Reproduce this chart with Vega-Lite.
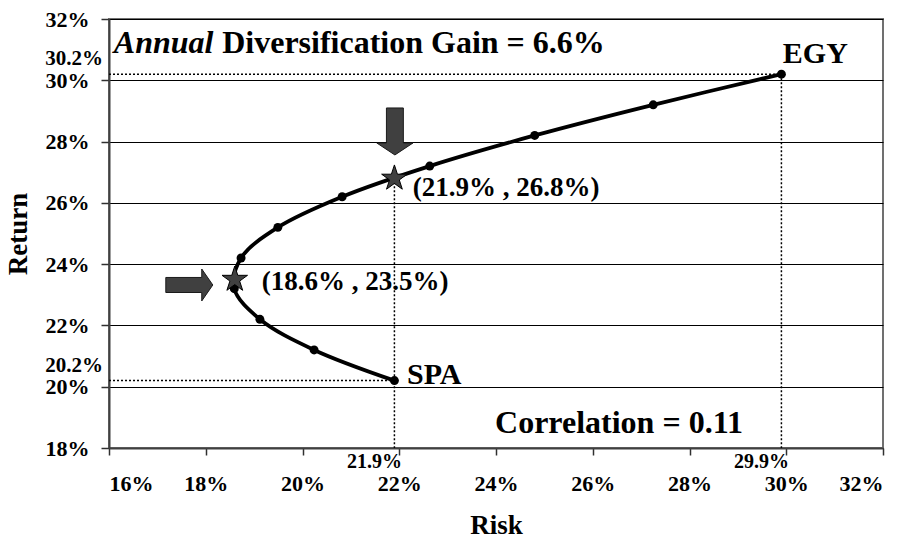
{
  "$schema": "https://vega.github.io/schema/vega-lite/v6.json",
  "autosize": {"type": "none"},
  "padding": {"left": 109, "top": 19, "right": 26, "bottom": 89},
  "width": 774,
  "height": 429,
  "background": "white",
  "config": {
    "view": {"stroke": "#707070", "strokeWidth": 2},
    "font": "Liberation Serif",
    "axis": {
      "labelFont": "Liberation Serif",
      "labelFontSize": 22,
      "labelFontWeight": "bold",
      "labelColor": "black",
      "titleFont": "Liberation Serif",
      "titleFontSize": 27,
      "titleFontWeight": "bold",
      "titleColor": "black",
      "domainColor": "#404040",
      "domainWidth": 2,
      "tickColor": "#303030",
      "tickWidth": 1.5
    }
  },
  "datasets": {
    "frontier": [
      {"w": 0, "risk": 21.9, "ret": 20.2},
      {"w": 1, "risk": 20.24, "ret": 21.2},
      {"w": 2, "risk": 19.12, "ret": 22.2},
      {"w": 3, "risk": 18.59, "ret": 23.2},
      {"w": 4, "risk": 18.73, "ret": 24.2},
      {"w": 5, "risk": 19.49, "ret": 25.2},
      {"w": 6, "risk": 20.82, "ret": 26.2},
      {"w": 7, "risk": 22.63, "ret": 27.2},
      {"w": 8, "risk": 24.8, "ret": 28.2},
      {"w": 9, "risk": 27.25, "ret": 29.2},
      {"w": 10, "risk": 29.9, "ret": 30.2}
    ],
    "stars": [
      {"risk": 18.6, "ret": 23.5},
      {"risk": 21.9, "ret": 26.8}
    ],
    "rules": [
      {"x": 16, "y": 30.2, "x2": 29.9, "y2": 30.2},
      {"x": 16, "y": 20.2, "x2": 21.9, "y2": 20.2},
      {"x": 21.9, "y": 26.8, "x2": 21.9, "y2": 18},
      {"x": 29.9, "y": 30.2, "x2": 29.9, "y2": 18}
    ]
  },
  "layer": [
    {
      "data": {"name": "rules"},
      "mark": {"type": "rule", "color": "black", "strokeWidth": 1.5, "strokeDash": [2, 2]},
      "encoding": {
        "x": {"field": "x", "type": "quantitative", "scale": {"domain": [16, 32], "nice": false, "zero": false},
          "axis": {"values": [16, 18, 20, 22, 24, 26, 28, 30, 32], "labelExpr": "datum.value + '%'", "tickSize": 7, "labelPadding": 18, "grid": false, "title": "Risk", "titleX": 387, "titleY": 77, "titleBaseline": "middle", "titleAlign": "center"}},
        "y": {"field": "y", "type": "quantitative", "scale": {"domain": [18, 32], "nice": false, "zero": false},
          "axis": {"values": [18, 20, 22, 24, 26, 28, 30, 32], "labelExpr": "datum.value + '%'", "tickSize": 8, "labelPadding": 12, "grid": true, "gridColor": "black", "gridWidth": 1, "gridOpacity": 1, "title": "Return", "titleX": -91, "titleY": 214.5, "titleAngle": 270, "titleBaseline": "middle", "titleAlign": "center"}},
        "x2": {"field": "x2"},
        "y2": {"field": "y2"}
      }
    },
    {
      "data": {"name": "frontier"},
      "mark": {"type": "line", "color": "black", "strokeWidth": 3.8, "interpolate": "catmull-rom"},
      "encoding": {
        "x": {"field": "risk", "type": "quantitative"},
        "y": {"field": "ret", "type": "quantitative"},
        "order": {"field": "w", "type": "quantitative"}
      }
    },
    {
      "data": {"name": "frontier"},
      "mark": {"type": "point", "filled": true, "color": "black", "size": 80, "opacity": 1},
      "encoding": {
        "x": {"field": "risk", "type": "quantitative"},
        "y": {"field": "ret", "type": "quantitative"}
      }
    },
    {
      "data": {"name": "stars"},
      "mark": {"type": "point", "shape": "M0,-1L0.2245,-0.309L0.951,-0.309L0.363,0.118L0.588,0.809L0,0.382L-0.588,0.809L-0.363,0.118L-0.951,-0.309L-0.2245,-0.309Z", "filled": true, "fill": "#404040", "stroke": "black", "strokeWidth": 1, "size": 720, "opacity": 1},
      "encoding": {
        "x": {"field": "risk", "type": "quantitative"},
        "y": {"field": "ret", "type": "quantitative"}
      }
    },
    {
      "data": {"values": [{"risk": 21.91, "ret": 28.33}]},
      "mark": {"type": "point", "shape": "M-0.36,-1L0.36,-1L0.36,0.49L0.77,0.49L0,1L-0.77,0.49L-0.36,0.49Z", "filled": true, "fill": "#404040", "stroke": "#1a1a1a", "strokeWidth": 1, "size": 2209, "opacity": 1},
      "encoding": {
        "x": {"field": "risk", "type": "quantitative"},
        "y": {"field": "ret", "type": "quantitative"}
      }
    },
    {
      "data": {"values": [{"risk": 17.66, "ret": 23.32}]},
      "mark": {"type": "point", "shape": "M-1,-0.32L0.53,-0.32L0.53,-0.68L1,0L0.53,0.68L0.53,0.32L-1,0.32Z", "filled": true, "fill": "#404040", "stroke": "#1a1a1a", "strokeWidth": 1, "size": 2209, "opacity": 1},
      "encoding": {
        "x": {"field": "risk", "type": "quantitative"},
        "y": {"field": "ret", "type": "quantitative"}
      }
    },
    {
      "data": {"values": [
        {"t": "Diversification Gain = 6.6%", "risk": 18.34, "ret": 30.88},
        {"t": "Correlation = 0.11", "risk": 23.98, "ret": 18.49}
      ]},
      "mark": {"type": "text", "align": "left", "baseline": "alphabetic", "fontWeight": "bold", "fontSize": 32, "font": "Liberation Serif", "color": "black"},
      "encoding": {
        "x": {"field": "risk", "type": "quantitative"},
        "y": {"field": "ret", "type": "quantitative"},
        "text": {"field": "t"}
      }
    },
    {
      "data": {"values": [
        {"t": "EGY", "risk": 29.93, "ret": 30.56},
        {"t": "SPA", "risk": 22.16, "ret": 20.09}
      ]},
      "mark": {"type": "text", "align": "left", "baseline": "alphabetic", "fontWeight": "bold", "fontSize": 30, "font": "Liberation Serif", "color": "black"},
      "encoding": {
        "x": {"field": "risk", "type": "quantitative"},
        "y": {"field": "ret", "type": "quantitative"},
        "text": {"field": "t"}
      }
    },
    {
      "data": {"values": [{"t": "Annual", "risk": 16.1, "ret": 30.88}]},
      "mark": {"type": "text", "align": "left", "baseline": "alphabetic", "fontWeight": "bold", "fontStyle": "italic", "fontSize": 32, "font": "Liberation Serif", "color": "black"},
      "encoding": {
        "x": {"field": "risk", "type": "quantitative"},
        "y": {"field": "ret", "type": "quantitative"},
        "text": {"field": "t"}
      }
    },
    {
      "data": {"values": [
        {"t": "(21.9% , 26.8%)", "risk": 22.28, "ret": 26.22},
        {"t": "(18.6% , 23.5%)", "risk": 19.16, "ret": 23.16}
      ]},
      "mark": {"type": "text", "align": "left", "baseline": "alphabetic", "fontWeight": "bold", "fontSize": 27, "font": "Liberation Serif", "color": "black"},
      "encoding": {
        "x": {"field": "risk", "type": "quantitative"},
        "y": {"field": "ret", "type": "quantitative"},
        "text": {"field": "t"}
      }
    },
    {
      "data": {"values": [
        {"t": "21.9%", "risk": 21.9, "ret": 18},
        {"t": "29.9%", "risk": 29.9, "ret": 18}
      ]},
      "mark": {"type": "text", "align": "center", "baseline": "middle", "dx": -20, "dy": 14, "fontWeight": "bold", "fontSize": 20, "font": "Liberation Serif", "color": "black", "clip": false},
      "encoding": {
        "x": {"field": "risk", "type": "quantitative"},
        "y": {"field": "ret", "type": "quantitative"},
        "text": {"field": "t"}
      }
    },
    {
      "data": {"values": [
        {"t": "30.2%", "risk": 16, "ret": 30.2},
        {"t": "20.2%", "risk": 16, "ret": 20.2}
      ]},
      "mark": {"type": "text", "align": "right", "baseline": "middle", "dx": -6, "dy": -15, "fontWeight": "bold", "fontSize": 21, "font": "Liberation Serif", "color": "black", "clip": false},
      "encoding": {
        "x": {"field": "risk", "type": "quantitative"},
        "y": {"field": "ret", "type": "quantitative"},
        "text": {"field": "t"}
      }
    }
  ]
}
